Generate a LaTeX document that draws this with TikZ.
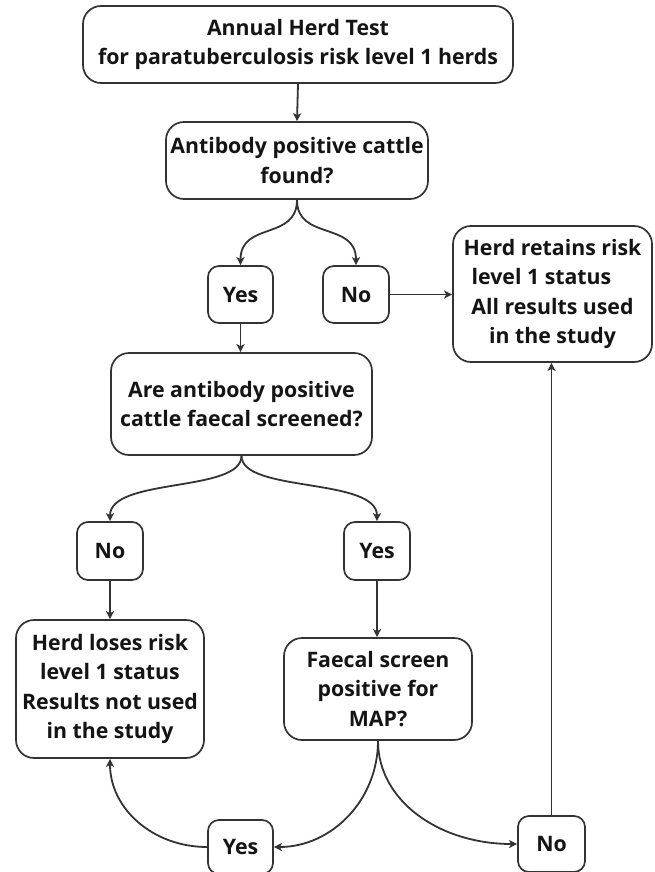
\documentclass[tikz,border=0pt]{standalone}
\usepackage{fontspec}
\setmainfont{Open Sans}
\usetikzlibrary{arrows.meta}
\definecolor{linec}{HTML}{333333}
\definecolor{textc}{HTML}{141414}
\begin{document}
\begin{tikzpicture}[x=1pt,y=-1pt,
  box/.style={draw=linec,line width=1.7pt,rounded corners=18pt,inner sep=0pt,align=center,
    font=\fontsize{21.3}{29.5}\selectfont\bfseries,text=textc},
  sbox/.style={box,rounded corners=11pt},
  conn/.style={draw=linec,line width=1.8pt,-{Stealth[length=8pt,width=8pt,inset=2pt]}}]
\useasboundingbox (0,0) rectangle (655,872);
\node[box,minimum width=430pt,minimum height=77pt] (top) at (298,44.5) {Annual Herd Test\\for paratuberculosis risk level 1 herds};
\node[box,minimum width=262pt,minimum height=77pt] (ab) at (297,160.5) {Antibody positive cattle\\found?};
\node[sbox,minimum width=65pt,minimum height=57pt] (yes1) at (240.5,294.5) {Yes};
\node[sbox,minimum width=66pt,minimum height=57pt] (no1) at (356,294.5) {No};
\node[box,minimum width=199pt,minimum height=136pt] (ret) at (552.5,294) {Herd retains risk\\level 1 status\rule{22pt}{0pt}\\All results used\\in the study};
\node[box,minimum width=261pt,minimum height=102pt] (are) at (241.5,404) {Are antibody positive\\cattle faecal screened?};
\node[sbox,minimum width=66pt,minimum height=58pt] (no2) at (110,551) {No};
\node[sbox,minimum width=66pt,minimum height=58pt] (yes2) at (377,551) {Yes};
\node[box,minimum width=188pt,minimum height=138pt] (loses) at (110,689) {Herd loses risk\\level 1 status\\Results not used\\in the study};
\node[box,minimum width=188pt,minimum height=102pt] (fae) at (378,689) {Faecal screen\\positive for\\MAP?};
\node[sbox,minimum width=65pt,minimum height=54pt] (yes3) at (240.5,847) {Yes};
\node[sbox,minimum width=67pt,minimum height=56pt] (no3) at (551.5,844) {No};
\draw[conn] (top.south) -- (ab.north);
\draw[conn] (ab.south) .. controls +(0,41) and +(0,-44) .. (yes1.north);
\draw[conn] (ab.south) .. controls +(0,41) and +(0,-44) .. (no1.north);
\draw[conn] (no1.east) -- (ret.west |- no1.east);
\draw[conn] (yes1.south) -- (are.north -| yes1.south);
\draw[conn] (are.south) .. controls +(0,37) and +(0,-44) .. (no2.north);
\draw[conn] (are.south) .. controls +(0,37) and +(0,-44) .. (yes2.north);
\draw[conn] (no2.south) -- (loses.north);
\draw[conn] (yes2.south) -- (fae.north -| yes2.south);
\draw[conn] (fae.south) .. controls +(0,59) and +(58,0) .. (yes3.east);
\draw[conn] (fae.south) .. controls +(0,60) and +(-78,0) .. (no3.west);
\draw[conn] (yes3.west) .. controls +(-54,0) and +(0,50) .. (loses.south);
\draw[conn] (no3.north) -- (ret.south -| no3.north);
\end{tikzpicture}
\end{document}
